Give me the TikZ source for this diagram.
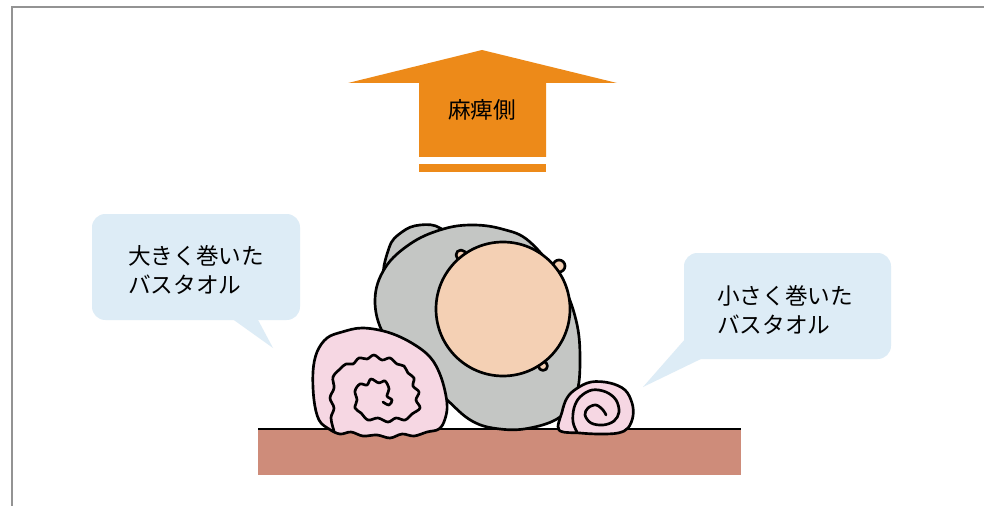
\documentclass[tikz,border=0pt]{standalone}
\usepackage{fontspec}
\newfontfamily\jpfont{Noto Sans CJK JP}
\definecolor{arroworange}{RGB}{237,138,25}
\definecolor{calloutblue}{RGB}{221,236,246}
\definecolor{towelpink}{RGB}{246,215,227}
\definecolor{bodygray}{RGB}{196,198,196}
\definecolor{skin}{RGB}{244,208,180}
\definecolor{floorbrown}{RGB}{206,140,122}

\begin{document}
\begin{tikzpicture}[x=0.75pt,y=-0.75pt,
    outline/.style={draw=black,line width=2pt,line join=round,line cap=round},
    jplabel/.style={font=\jpfont\fontsize{17}{21.5}\selectfont,align=left,inner sep=0pt}]
    \fill[white] (0,0) rectangle (984,506);
    \useasboundingbox (0,0) rectangle (984,506);

    % floor
    \fill[floorbrown] (258,429) rectangle (741,475);
    \draw[line width=2pt] (258,429) -- (741,429);

    % person seen from above: back of shoulder, body, head
    \draw[outline,fill=bodygray] plot[smooth cycle,tension=0.7] coordinates {
        (386,280) (389,248) (402,232) (420,225) (440,228) (452,245) (420,275)};
    \draw[outline,fill=bodygray] plot[smooth cycle,tension=0.65] coordinates {
        (385,268) (410,244) (440,230) (470,225) (502,229) (530,242) (560,280)
        (576,320) (580,360) (576,395) (560,417) (530,428) (500,429) (472,421)
        (445,398) (410,365) (384,335) (375,300)};
    \draw[outline,fill=skin] (461,255) circle (5);
    \draw[outline,fill=skin] (559,266) circle (6);
    \draw[outline,fill=skin] (543,366) circle (4.5);
    \draw[outline,fill=skin] (503,309) circle (67);

    % big rolled towel
    \draw[outline,fill=towelpink] plot[smooth cycle,tension=0.6] coordinates {
        (329,429) (319,420) (314,400) (313,372) (317,352) (327,338) (342,332)
        (362,328) (387,332) (410,342) (430,357) (441,377) (447,403) (445,419)
        (439,429) (427,432) (414,436) (402,434) (390,438) (377,435) (363,436)
        (351,432) (340,434)};
    \draw[outline] plot[smooth,tension=0.6] coordinates {
        (334,431) (331,418) (334,408) (330,398) (334,388) (333,377) (340,369)
        (346,364) (353,364) (359,358) (367,359) (374,355) (382,360) (390,358)
        (397,364) (404,366) (408,373) (414,378) (413,386) (419,392) (416,400)
        (420,408) (412,414) (405,420) (396,418) (388,422) (378,418) (368,420)
        (361,413) (355,408) (357,400) (355,391) (360,384) (367,385) (371,379)
        (379,383) (385,381) (389,389) (387,396) (392,400) (389,405) (383,402)};

    % small rolled towel
    \draw[outline,fill=towelpink] plot[smooth cycle,tension=0.6] coordinates {
        (559,430) (562,412) (567,398) (576,389) (591,382) (610,383) (625,390)
        (632,403) (633,416) (628,428) (618,433) (600,434) (580,433)};
    \draw[outline] plot[smooth,tension=0.6] coordinates {
        (577,432) (573,422) (574,408) (580,397) (592,390) (606,392) (616,400)
        (619,412) (614,421) (603,425) (591,423) (585,415) (588,408) (596,405)
        (603,410) (606,415)};

    % callouts
    \fill[calloutblue,rounded corners=10pt] (92,214) rectangle (300,320);
    \fill[calloutblue] (231,318) -- (257,318) -- (273,348) -- cycle;
    \node[jplabel,anchor=west] (bigtowel) at (128,270) {大きく巻いた\\バスタオル};

    \fill[calloutblue,rounded corners=10pt] (684,253) rectangle (891,359);
    \fill[calloutblue] (686,338) -- (705,357) -- (643,387) -- cycle;
    \node[jplabel,anchor=west] (smalltowel) at (717,310) {小さく巻いた\\バスタオル};

    % arrow pointing to the paralysed side
    \fill[arroworange] (419,157) -- (419,83) -- (348,83) -- (482,50) -- (617,83)
        -- (546,83) -- (546,157) -- cycle;
    \fill[arroworange] (419,164) rectangle (546,171.5);
    \node[jplabel] (side) at (482,110) {麻痺側};

    % frame
    \draw[gray!85,line width=1.4pt] (12,506) -- (12,7) -- (984,7);
\end{tikzpicture}
\end{document}
